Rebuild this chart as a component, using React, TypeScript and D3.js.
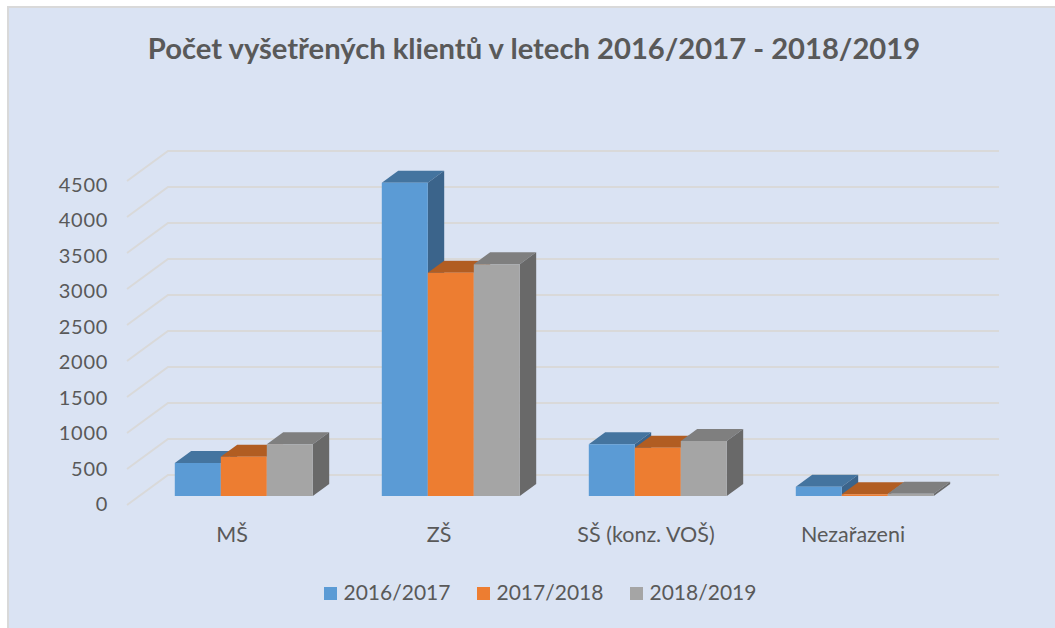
import { useEffect, useRef } from 'react';
import * as d3 from 'd3';

const title = 'Počet vyšetřených klientů v letech 2016/2017 - 2018/2019';
const categories = ['MŠ', 'ZŠ', 'SŠ (konz. VOŠ)', 'Nezařazeni'];
const seriesNames = ['2016/2017', '2017/2018', '2018/2019'];
const values2016 = [458, 4350, 720, 130];
const values2017 = [545, 3100, 670, 25];
const values2018 = [720, 3220, 765, 30];
const yTicks = [0, 500, 1000, 1500, 2000, 2500, 3000, 3500, 4000, 4500];
const frontColors = ['#5b9bd5', '#ed7d31', '#a5a5a5'];
const topColors = ['#44749f', '#b15d22', '#7f7f7f'];
const sideColors = ['#3b648b', '#9c5220', '#696969'];

const allValues = [values2016, values2017, values2018];
const textColor = '#595959';
const fontFamily = 'Lato, Carlito, sans-serif';

const App = () => {
  const svgRef = useRef<SVGSVGElement>(null);

  useEffect(() => {
    const svg = d3.select(svgRef.current);
    svg.selectAll('*').remove();

    svg.append('rect').attr('width', 1055).attr('height', 628).attr('fill', '#fff');
    svg.append('rect').attr('x', 8).attr('y', 7).attr('width', 1060).attr('height', 640)
      .attr('fill', '#dae3f3').attr('stroke', '#d9d9d9').attr('stroke-width', 2);

    // floor front edge runs 127..958 at y 505; depth goes up and to the right
    const floorLeft = 127;
    const floorRight = 958;
    const x0 = d3.scaleBand().domain(categories).range([128, 956]);
    const x1 = d3.scaleBand().domain(seriesNames).range([0, x0.bandwidth()]).paddingInner(0).paddingOuter(0.75);
    const y = d3.scaleLinear().domain([0, 4500]).range([0, 324]);
    const labelY = d3.scaleLinear().domain([0, 4500]).range([511, 191.5]);
    const depthX = d3.scaleLinear().domain([0, 1]).range([0, 41]);
    const depthY = d3.scaleLinear().domain([0, 1]).range([505, 475]);

    const pt = (px: number, d: number, v: number) => [px + depthX(d), depthY(d) - y(v)];
    const poly = (pts: number[][]) => pts.map((p) => p.join(',')).join(' ');

    // gridlines, floor side plus back wall
    const grid = svg.append('g');
    yTicks.forEach((t) => {
      grid.append('polyline')
        .attr('points', poly([pt(floorLeft, 0, t), pt(floorLeft, 1, t), pt(floorRight, 1, t)]))
        .attr('fill', 'none')
        .attr('stroke', '#d9d9d9')
        .attr('stroke-width', 2);
    });

    // y labels
    svg.append('g').selectAll('text').data(yTicks).join('text')
      .attr('x', 108)
      .attr('y', (t) => labelY(t))
      .attr('text-anchor', 'end')
      .attr('font-family', fontFamily)
      .attr('font-size', 20)
      .attr('letter-spacing', 0.7)
      .attr('fill', textColor)
      .text((t) => t);

    // bars: near 0.3, far 0.7 of the floor depth
    const near = 0.3;
    const far = 0.7;
    categories.forEach((cat, i) => {
      seriesNames.forEach((name, s) => {
        const v = allValues[s][i];
        const l = (x0(cat) as number) + (x1(name) as number);
        const r = l + x1.bandwidth();
        const g = svg.append('g');
        g.append('polygon')
          .attr('points', poly([pt(l, near, v), pt(l, far, v), pt(r, far, v), pt(r, near, v)]))
          .attr('fill', topColors[s]);
        g.append('polygon')
          .attr('points', poly([pt(r, near, 0), pt(r, far, 0), pt(r, far, v), pt(r, near, v)]))
          .attr('fill', sideColors[s]);
        g.append('polygon')
          .attr('points', poly([pt(l, near, 0), pt(r, near, 0), pt(r, near, v), pt(l, near, v)]))
          .attr('fill', frontColors[s]);
      });
    });

    // category labels
    svg.append('g').selectAll('text').data(categories).join('text')
      .attr('x', (c) => (x0(c) as number) + x0.bandwidth() / 2 + 0.5)
      .attr('y', 542)
      .attr('text-anchor', 'middle')
      .attr('font-family', fontFamily)
      .attr('font-size', 21.5)
      .attr('fill', textColor)
      .text((c) => c);

    svg.append('text')
      .attr('x', 534)
      .attr('y', 58.5)
      .attr('text-anchor', 'middle')
      .attr('font-family', fontFamily)
      .attr('font-weight', 700)
      .attr('font-size', 29.2)
      .attr('fill', textColor)
      .text(title);

    // legend
    const legendX = d3.scalePoint().domain(seriesNames).range([324, 630]);
    const legend = svg.append('g').selectAll('g').data(seriesNames).join('g')
      .attr('transform', (n) => `translate(${legendX(n)},587)`);
    legend.append('rect').attr('width', 13).attr('height', 13).attr('fill', (_, i) => frontColors[i]);
    legend.append('text')
      .attr('x', 19.5)
      .attr('y', 13)
      .attr('font-family', fontFamily)
      .attr('font-size', 21)
      .attr('fill', textColor)
      .text((n) => n);
  }, []);

  return <svg ref={svgRef} width={1055} height={628} style={{ position: 'absolute', left: 0, top: 0 }} />;
};

export default App;
